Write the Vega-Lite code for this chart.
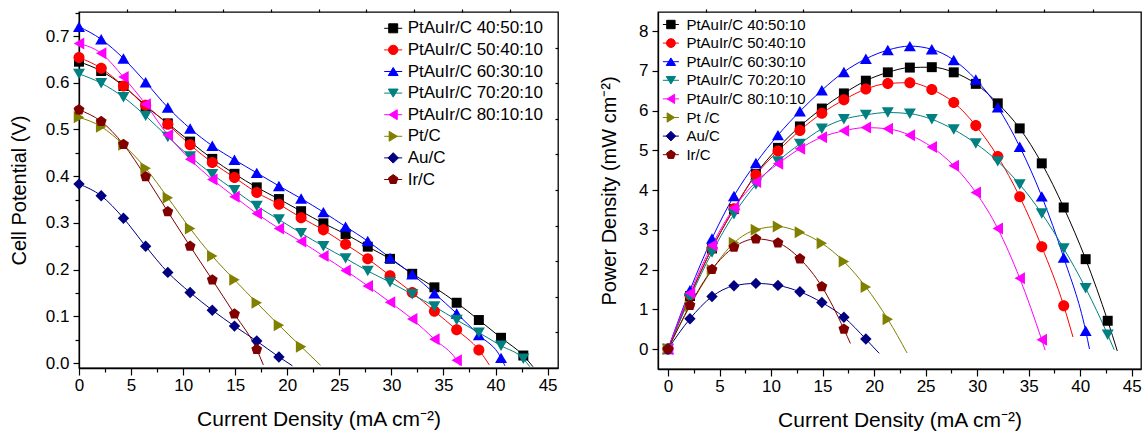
{
"$schema": "https://vega.github.io/schema/vega-lite/v6.json",
"padding": {"left": 8, "top": 3, "right": 0, "bottom": 0},
"autosize": {"type": "pad"},
"bounds": "flush",
"spacing": 100,
"config": {
  "font": "Liberation Sans",
  "view": {"stroke": "#000000", "strokeWidth": 1.3},
  "axis": {"grid": false, "domainColor": "#000000", "domainWidth": 1.3, "tickColor": "#000000", "tickWidth": 1.2, "labelColor": "#000000", "titleColor": "#000000", "labelFontSize": 17, "titleFontSize": 20, "titleFontWeight": "normal", "labelFont": "Liberation Sans", "titleFont": "Liberation Sans", "labelFlush": false, "labelOverlap": false}
},
"resolve": {"scale": {"color": "independent", "shape": "independent"}},
"datasets": {
"cp": [
{"s":"PtAuIr/C 40:50:10","i":0,"v":0.645,"m":1},{"s":"PtAuIr/C 40:50:10","i":2.13,"v":0.625,"m":1},{"s":"PtAuIr/C 40:50:10","i":4.27,"v":0.593,"m":1},{"s":"PtAuIr/C 40:50:10","i":6.4,"v":0.55,"m":1},{"s":"PtAuIr/C 40:50:10","i":8.53,"v":0.513,"m":1},{"s":"PtAuIr/C 40:50:10","i":10.67,"v":0.474,"m":1},{"s":"PtAuIr/C 40:50:10","i":12.8,"v":0.437,"m":1},{"s":"PtAuIr/C 40:50:10","i":14.93,"v":0.405,"m":1},{"s":"PtAuIr/C 40:50:10","i":17.07,"v":0.376,"m":1},{"s":"PtAuIr/C 40:50:10","i":19.2,"v":0.351,"m":1},{"s":"PtAuIr/C 40:50:10","i":21.33,"v":0.325,"m":1},{"s":"PtAuIr/C 40:50:10","i":23.47,"v":0.299,"m":1},{"s":"PtAuIr/C 40:50:10","i":25.6,"v":0.276,"m":1},{"s":"PtAuIr/C 40:50:10","i":27.73,"v":0.249,"m":1},{"s":"PtAuIr/C 40:50:10","i":29.87,"v":0.223,"m":1},{"s":"PtAuIr/C 40:50:10","i":32,"v":0.191,"m":1},{"s":"PtAuIr/C 40:50:10","i":34.13,"v":0.162,"m":1},{"s":"PtAuIr/C 40:50:10","i":36.27,"v":0.129,"m":1},{"s":"PtAuIr/C 40:50:10","i":38.4,"v":0.092,"m":1},{"s":"PtAuIr/C 40:50:10","i":40.53,"v":0.054,"m":1},{"s":"PtAuIr/C 40:50:10","i":42.67,"v":0.016,"m":1},{"s":"PtAuIr/C 40:50:10","i":43.6,"v":-0.008,"m":0},
{"s":"PtAuIr/C 50:40:10","i":0,"v":0.654,"m":1},{"s":"PtAuIr/C 50:40:10","i":2.13,"v":0.631,"m":1},{"s":"PtAuIr/C 50:40:10","i":4.27,"v":0.593,"m":1},{"s":"PtAuIr/C 50:40:10","i":6.4,"v":0.552,"m":1},{"s":"PtAuIr/C 50:40:10","i":8.53,"v":0.511,"m":1},{"s":"PtAuIr/C 50:40:10","i":10.67,"v":0.467,"m":1},{"s":"PtAuIr/C 50:40:10","i":12.8,"v":0.429,"m":1},{"s":"PtAuIr/C 50:40:10","i":14.93,"v":0.397,"m":1},{"s":"PtAuIr/C 50:40:10","i":17.07,"v":0.365,"m":1},{"s":"PtAuIr/C 50:40:10","i":19.2,"v":0.34,"m":1},{"s":"PtAuIr/C 50:40:10","i":21.33,"v":0.311,"m":1},{"s":"PtAuIr/C 50:40:10","i":23.47,"v":0.285,"m":1},{"s":"PtAuIr/C 50:40:10","i":25.6,"v":0.254,"m":1},{"s":"PtAuIr/C 50:40:10","i":27.73,"v":0.223,"m":1},{"s":"PtAuIr/C 50:40:10","i":29.87,"v":0.187,"m":1},{"s":"PtAuIr/C 50:40:10","i":32,"v":0.151,"m":1},{"s":"PtAuIr/C 50:40:10","i":34.13,"v":0.111,"m":1},{"s":"PtAuIr/C 50:40:10","i":36.27,"v":0.071,"m":1},{"s":"PtAuIr/C 50:40:10","i":38.4,"v":0.028,"m":1},{"s":"PtAuIr/C 50:40:10","i":39.4,"v":-0.004,"m":0},
{"s":"PtAuIr/C 60:30:10","i":0,"v":0.72,"m":1},{"s":"PtAuIr/C 60:30:10","i":2.13,"v":0.693,"m":1},{"s":"PtAuIr/C 60:30:10","i":4.27,"v":0.652,"m":1},{"s":"PtAuIr/C 60:30:10","i":6.4,"v":0.601,"m":1},{"s":"PtAuIr/C 60:30:10","i":8.53,"v":0.547,"m":1},{"s":"PtAuIr/C 60:30:10","i":10.67,"v":0.502,"m":1},{"s":"PtAuIr/C 60:30:10","i":12.8,"v":0.465,"m":1},{"s":"PtAuIr/C 60:30:10","i":14.93,"v":0.435,"m":1},{"s":"PtAuIr/C 60:30:10","i":17.07,"v":0.407,"m":1},{"s":"PtAuIr/C 60:30:10","i":19.2,"v":0.379,"m":1},{"s":"PtAuIr/C 60:30:10","i":21.33,"v":0.352,"m":1},{"s":"PtAuIr/C 60:30:10","i":23.47,"v":0.323,"m":1},{"s":"PtAuIr/C 60:30:10","i":25.6,"v":0.292,"m":1},{"s":"PtAuIr/C 60:30:10","i":27.73,"v":0.261,"m":1},{"s":"PtAuIr/C 60:30:10","i":29.87,"v":0.225,"m":1},{"s":"PtAuIr/C 60:30:10","i":32,"v":0.19,"m":1},{"s":"PtAuIr/C 60:30:10","i":34.13,"v":0.149,"m":1},{"s":"PtAuIr/C 60:30:10","i":36.27,"v":0.106,"m":1},{"s":"PtAuIr/C 60:30:10","i":38.4,"v":0.06,"m":1},{"s":"PtAuIr/C 60:30:10","i":40.53,"v":0.011,"m":1},{"s":"PtAuIr/C 60:30:10","i":40.9,"v":-0.006,"m":0},
{"s":"PtAuIr/C 70:20:10","i":0,"v":0.619,"m":1},{"s":"PtAuIr/C 70:20:10","i":2.13,"v":0.599,"m":1},{"s":"PtAuIr/C 70:20:10","i":4.27,"v":0.569,"m":1},{"s":"PtAuIr/C 70:20:10","i":6.4,"v":0.529,"m":1},{"s":"PtAuIr/C 70:20:10","i":8.53,"v":0.484,"m":1},{"s":"PtAuIr/C 70:20:10","i":10.67,"v":0.442,"m":1},{"s":"PtAuIr/C 70:20:10","i":12.8,"v":0.404,"m":1},{"s":"PtAuIr/C 70:20:10","i":14.93,"v":0.37,"m":1},{"s":"PtAuIr/C 70:20:10","i":17.07,"v":0.336,"m":1},{"s":"PtAuIr/C 70:20:10","i":19.2,"v":0.307,"m":1},{"s":"PtAuIr/C 70:20:10","i":21.33,"v":0.278,"m":1},{"s":"PtAuIr/C 70:20:10","i":23.47,"v":0.25,"m":1},{"s":"PtAuIr/C 70:20:10","i":25.6,"v":0.224,"m":1},{"s":"PtAuIr/C 70:20:10","i":27.73,"v":0.197,"m":1},{"s":"PtAuIr/C 70:20:10","i":29.87,"v":0.173,"m":1},{"s":"PtAuIr/C 70:20:10","i":32,"v":0.147,"m":1},{"s":"PtAuIr/C 70:20:10","i":34.13,"v":0.121,"m":1},{"s":"PtAuIr/C 70:20:10","i":36.27,"v":0.092,"m":1},{"s":"PtAuIr/C 70:20:10","i":38.4,"v":0.065,"m":1},{"s":"PtAuIr/C 70:20:10","i":40.53,"v":0.037,"m":1},{"s":"PtAuIr/C 70:20:10","i":42.67,"v":0.009,"m":1},{"s":"PtAuIr/C 70:20:10","i":43.3,"v":-0.008,"m":0},
{"s":"PtAuIr/C 80:10:10","i":0,"v":0.684,"m":1},{"s":"PtAuIr/C 80:10:10","i":2.13,"v":0.663,"m":1},{"s":"PtAuIr/C 80:10:10","i":4.27,"v":0.612,"m":1},{"s":"PtAuIr/C 80:10:10","i":6.4,"v":0.554,"m":1},{"s":"PtAuIr/C 80:10:10","i":8.53,"v":0.488,"m":1},{"s":"PtAuIr/C 80:10:10","i":10.67,"v":0.436,"m":1},{"s":"PtAuIr/C 80:10:10","i":12.8,"v":0.393,"m":1},{"s":"PtAuIr/C 80:10:10","i":14.93,"v":0.356,"m":1},{"s":"PtAuIr/C 80:10:10","i":17.07,"v":0.32,"m":1},{"s":"PtAuIr/C 80:10:10","i":19.2,"v":0.288,"m":1},{"s":"PtAuIr/C 80:10:10","i":21.33,"v":0.26,"m":1},{"s":"PtAuIr/C 80:10:10","i":23.47,"v":0.229,"m":1},{"s":"PtAuIr/C 80:10:10","i":25.6,"v":0.198,"m":1},{"s":"PtAuIr/C 80:10:10","i":27.73,"v":0.165,"m":1},{"s":"PtAuIr/C 80:10:10","i":29.87,"v":0.13,"m":1},{"s":"PtAuIr/C 80:10:10","i":32,"v":0.094,"m":1},{"s":"PtAuIr/C 80:10:10","i":34.13,"v":0.051,"m":1},{"s":"PtAuIr/C 80:10:10","i":36.27,"v":0.006,"m":1},{"s":"PtAuIr/C 80:10:10","i":36.6,"v":-0.006,"m":0},
{"s":"Pt/C","i":0,"v":0.526,"m":1},{"s":"Pt/C","i":2.13,"v":0.506,"m":1},{"s":"Pt/C","i":4.27,"v":0.467,"m":1},{"s":"Pt/C","i":6.4,"v":0.417,"m":1},{"s":"Pt/C","i":8.53,"v":0.354,"m":1},{"s":"Pt/C","i":10.67,"v":0.288,"m":1},{"s":"Pt/C","i":12.8,"v":0.229,"m":1},{"s":"Pt/C","i":14.93,"v":0.178,"m":1},{"s":"Pt/C","i":17.07,"v":0.129,"m":1},{"s":"Pt/C","i":19.2,"v":0.081,"m":1},{"s":"Pt/C","i":21.33,"v":0.035,"m":1},{"s":"Pt/C","i":23.2,"v":-0.005,"m":0},
{"s":"Au/C","i":0,"v":0.383,"m":1},{"s":"Au/C","i":2.13,"v":0.358,"m":1},{"s":"Au/C","i":4.27,"v":0.31,"m":1},{"s":"Au/C","i":6.4,"v":0.25,"m":1},{"s":"Au/C","i":8.53,"v":0.194,"m":1},{"s":"Au/C","i":10.67,"v":0.151,"m":1},{"s":"Au/C","i":12.8,"v":0.113,"m":1},{"s":"Au/C","i":14.93,"v":0.079,"m":1},{"s":"Au/C","i":17.07,"v":0.047,"m":1},{"s":"Au/C","i":19.2,"v":0.013,"m":1},{"s":"Au/C","i":20.5,"v":-0.006,"m":0},
{"s":"Ir/C","i":0,"v":0.542,"m":1},{"s":"Ir/C","i":2.13,"v":0.517,"m":1},{"s":"Ir/C","i":4.27,"v":0.468,"m":1},{"s":"Ir/C","i":6.4,"v":0.399,"m":1},{"s":"Ir/C","i":8.53,"v":0.324,"m":1},{"s":"Ir/C","i":10.67,"v":0.25,"m":1},{"s":"Ir/C","i":12.8,"v":0.178,"m":1},{"s":"Ir/C","i":14.93,"v":0.105,"m":1},{"s":"Ir/C","i":17.07,"v":0.029,"m":1},{"s":"Ir/C","i":17.7,"v":-0.004,"m":0}
],
"pd": [
{"s":"PtAuIr/C 40:50:10","i":0,"p":0,"m":1},{"s":"PtAuIr/C 40:50:10","i":2.13,"p":1.33,"m":1},{"s":"PtAuIr/C 40:50:10","i":4.27,"p":2.53,"m":1},{"s":"PtAuIr/C 40:50:10","i":6.4,"p":3.52,"m":1},{"s":"PtAuIr/C 40:50:10","i":8.53,"p":4.4,"m":1},{"s":"PtAuIr/C 40:50:10","i":10.67,"p":5.06,"m":1},{"s":"PtAuIr/C 40:50:10","i":12.8,"p":5.6,"m":1},{"s":"PtAuIr/C 40:50:10","i":14.93,"p":6.05,"m":1},{"s":"PtAuIr/C 40:50:10","i":17.07,"p":6.43,"m":1},{"s":"PtAuIr/C 40:50:10","i":19.2,"p":6.75,"m":1},{"s":"PtAuIr/C 40:50:10","i":21.33,"p":6.96,"m":1},{"s":"PtAuIr/C 40:50:10","i":23.47,"p":7.08,"m":1},{"s":"PtAuIr/C 40:50:10","i":25.6,"p":7.09,"m":1},{"s":"PtAuIr/C 40:50:10","i":27.73,"p":6.96,"m":1},{"s":"PtAuIr/C 40:50:10","i":29.87,"p":6.67,"m":1},{"s":"PtAuIr/C 40:50:10","i":32,"p":6.18,"m":1},{"s":"PtAuIr/C 40:50:10","i":34.13,"p":5.55,"m":1},{"s":"PtAuIr/C 40:50:10","i":36.27,"p":4.67,"m":1},{"s":"PtAuIr/C 40:50:10","i":38.4,"p":3.56,"m":1},{"s":"PtAuIr/C 40:50:10","i":40.53,"p":2.26,"m":1},{"s":"PtAuIr/C 40:50:10","i":42.67,"p":0.71,"m":1},{"s":"PtAuIr/C 40:50:10","i":43.6,"p":-0.05,"m":0},
{"s":"PtAuIr/C 50:40:10","i":0,"p":0,"m":1},{"s":"PtAuIr/C 50:40:10","i":2.13,"p":1.35,"m":1},{"s":"PtAuIr/C 50:40:10","i":4.27,"p":2.53,"m":1},{"s":"PtAuIr/C 50:40:10","i":6.4,"p":3.53,"m":1},{"s":"PtAuIr/C 50:40:10","i":8.53,"p":4.38,"m":1},{"s":"PtAuIr/C 50:40:10","i":10.67,"p":4.98,"m":1},{"s":"PtAuIr/C 50:40:10","i":12.8,"p":5.5,"m":1},{"s":"PtAuIr/C 50:40:10","i":14.93,"p":5.93,"m":1},{"s":"PtAuIr/C 50:40:10","i":17.07,"p":6.27,"m":1},{"s":"PtAuIr/C 50:40:10","i":19.2,"p":6.54,"m":1},{"s":"PtAuIr/C 50:40:10","i":21.33,"p":6.68,"m":1},{"s":"PtAuIr/C 50:40:10","i":23.47,"p":6.7,"m":1},{"s":"PtAuIr/C 50:40:10","i":25.6,"p":6.53,"m":1},{"s":"PtAuIr/C 50:40:10","i":27.73,"p":6.2,"m":1},{"s":"PtAuIr/C 50:40:10","i":29.87,"p":5.62,"m":1},{"s":"PtAuIr/C 50:40:10","i":32,"p":4.84,"m":1},{"s":"PtAuIr/C 50:40:10","i":34.13,"p":3.83,"m":1},{"s":"PtAuIr/C 50:40:10","i":36.27,"p":2.57,"m":1},{"s":"PtAuIr/C 50:40:10","i":38.4,"p":1.09,"m":1},{"s":"PtAuIr/C 50:40:10","i":39.3,"p":0.3,"m":0},
{"s":"PtAuIr/C 60:30:10","i":0,"p":0,"m":1},{"s":"PtAuIr/C 60:30:10","i":2.13,"p":1.48,"m":1},{"s":"PtAuIr/C 60:30:10","i":4.27,"p":2.78,"m":1},{"s":"PtAuIr/C 60:30:10","i":6.4,"p":3.85,"m":1},{"s":"PtAuIr/C 60:30:10","i":8.53,"p":4.68,"m":1},{"s":"PtAuIr/C 60:30:10","i":10.67,"p":5.38,"m":1},{"s":"PtAuIr/C 60:30:10","i":12.8,"p":5.98,"m":1},{"s":"PtAuIr/C 60:30:10","i":14.93,"p":6.51,"m":1},{"s":"PtAuIr/C 60:30:10","i":17.07,"p":6.97,"m":1},{"s":"PtAuIr/C 60:30:10","i":19.2,"p":7.3,"m":1},{"s":"PtAuIr/C 60:30:10","i":21.33,"p":7.52,"m":1},{"s":"PtAuIr/C 60:30:10","i":23.47,"p":7.62,"m":1},{"s":"PtAuIr/C 60:30:10","i":25.6,"p":7.54,"m":1},{"s":"PtAuIr/C 60:30:10","i":27.73,"p":7.27,"m":1},{"s":"PtAuIr/C 60:30:10","i":29.87,"p":6.78,"m":1},{"s":"PtAuIr/C 60:30:10","i":32,"p":6.08,"m":1},{"s":"PtAuIr/C 60:30:10","i":34.13,"p":5.09,"m":1},{"s":"PtAuIr/C 60:30:10","i":36.27,"p":3.84,"m":1},{"s":"PtAuIr/C 60:30:10","i":38.4,"p":2.3,"m":1},{"s":"PtAuIr/C 60:30:10","i":40.53,"p":0.46,"m":1},{"s":"PtAuIr/C 60:30:10","i":40.9,"p":0.0,"m":0},
{"s":"PtAuIr/C 70:20:10","i":0,"p":0,"m":1},{"s":"PtAuIr/C 70:20:10","i":2.13,"p":1.28,"m":1},{"s":"PtAuIr/C 70:20:10","i":4.27,"p":2.43,"m":1},{"s":"PtAuIr/C 70:20:10","i":6.4,"p":3.39,"m":1},{"s":"PtAuIr/C 70:20:10","i":8.53,"p":4.14,"m":1},{"s":"PtAuIr/C 70:20:10","i":10.67,"p":4.72,"m":1},{"s":"PtAuIr/C 70:20:10","i":12.8,"p":5.16,"m":1},{"s":"PtAuIr/C 70:20:10","i":14.93,"p":5.54,"m":1},{"s":"PtAuIr/C 70:20:10","i":17.07,"p":5.78,"m":1},{"s":"PtAuIr/C 70:20:10","i":19.2,"p":5.89,"m":1},{"s":"PtAuIr/C 70:20:10","i":21.33,"p":5.95,"m":1},{"s":"PtAuIr/C 70:20:10","i":23.47,"p":5.92,"m":1},{"s":"PtAuIr/C 70:20:10","i":25.6,"p":5.78,"m":1},{"s":"PtAuIr/C 70:20:10","i":27.73,"p":5.52,"m":1},{"s":"PtAuIr/C 70:20:10","i":29.87,"p":5.17,"m":1},{"s":"PtAuIr/C 70:20:10","i":32,"p":4.72,"m":1},{"s":"PtAuIr/C 70:20:10","i":34.13,"p":4.14,"m":1},{"s":"PtAuIr/C 70:20:10","i":36.27,"p":3.41,"m":1},{"s":"PtAuIr/C 70:20:10","i":38.4,"p":2.53,"m":1},{"s":"PtAuIr/C 70:20:10","i":40.53,"p":1.53,"m":1},{"s":"PtAuIr/C 70:20:10","i":42.67,"p":0.36,"m":1},{"s":"PtAuIr/C 70:20:10","i":43.3,"p":-0.02,"m":0},
{"s":"PtAuIr/C 80:10:10","i":0,"p":0,"m":1},{"s":"PtAuIr/C 80:10:10","i":2.13,"p":1.41,"m":1},{"s":"PtAuIr/C 80:10:10","i":4.27,"p":2.61,"m":1},{"s":"PtAuIr/C 80:10:10","i":6.4,"p":3.55,"m":1},{"s":"PtAuIr/C 80:10:10","i":8.53,"p":4.2,"m":1},{"s":"PtAuIr/C 80:10:10","i":10.67,"p":4.66,"m":1},{"s":"PtAuIr/C 80:10:10","i":12.8,"p":5.04,"m":1},{"s":"PtAuIr/C 80:10:10","i":14.93,"p":5.33,"m":1},{"s":"PtAuIr/C 80:10:10","i":17.07,"p":5.49,"m":1},{"s":"PtAuIr/C 80:10:10","i":19.2,"p":5.57,"m":1},{"s":"PtAuIr/C 80:10:10","i":21.33,"p":5.54,"m":1},{"s":"PtAuIr/C 80:10:10","i":23.47,"p":5.38,"m":1},{"s":"PtAuIr/C 80:10:10","i":25.6,"p":5.08,"m":1},{"s":"PtAuIr/C 80:10:10","i":27.73,"p":4.61,"m":1},{"s":"PtAuIr/C 80:10:10","i":29.87,"p":3.94,"m":1},{"s":"PtAuIr/C 80:10:10","i":32,"p":3.03,"m":1},{"s":"PtAuIr/C 80:10:10","i":34.13,"p":1.78,"m":1},{"s":"PtAuIr/C 80:10:10","i":36.27,"p":0.23,"m":1},{"s":"PtAuIr/C 80:10:10","i":36.6,"p":-0.03,"m":0},
{"s":"Pt /C","i":0,"p":0,"m":1},{"s":"Pt /C","i":2.13,"p":1.08,"m":1},{"s":"Pt /C","i":4.27,"p":1.99,"m":1},{"s":"Pt /C","i":6.4,"p":2.67,"m":1},{"s":"Pt /C","i":8.53,"p":3.0,"m":1},{"s":"Pt /C","i":10.67,"p":3.08,"m":1},{"s":"Pt /C","i":12.8,"p":2.94,"m":1},{"s":"Pt /C","i":14.93,"p":2.66,"m":1},{"s":"Pt /C","i":17.07,"p":2.2,"m":1},{"s":"Pt /C","i":19.2,"p":1.56,"m":1},{"s":"Pt /C","i":21.33,"p":0.75,"m":1},{"s":"Pt /C","i":23.2,"p":-0.1,"m":0},
{"s":"Au/C","i":0,"p":0,"m":1},{"s":"Au/C","i":2.13,"p":0.76,"m":1},{"s":"Au/C","i":4.27,"p":1.32,"m":1},{"s":"Au/C","i":6.4,"p":1.59,"m":1},{"s":"Au/C","i":8.53,"p":1.65,"m":1},{"s":"Au/C","i":10.67,"p":1.6,"m":1},{"s":"Au/C","i":12.8,"p":1.44,"m":1},{"s":"Au/C","i":14.93,"p":1.17,"m":1},{"s":"Au/C","i":17.07,"p":0.8,"m":1},{"s":"Au/C","i":19.2,"p":0.25,"m":1},{"s":"Au/C","i":20.5,"p":-0.11,"m":0},
{"s":"Ir/C","i":0,"p":0,"m":1},{"s":"Ir/C","i":2.13,"p":1.1,"m":1},{"s":"Ir/C","i":4.27,"p":2.0,"m":1},{"s":"Ir/C","i":6.4,"p":2.56,"m":1},{"s":"Ir/C","i":8.53,"p":2.77,"m":1},{"s":"Ir/C","i":10.67,"p":2.67,"m":1},{"s":"Ir/C","i":12.8,"p":2.27,"m":1},{"s":"Ir/C","i":14.93,"p":1.57,"m":1},{"s":"Ir/C","i":17.07,"p":0.5,"m":1},{"s":"Ir/C","i":17.7,"p":0.14,"m":0}
]
},
"hconcat": [
{
  "width": 479, "height": 356,
  "data": {"name": "cp"},
  "resolve": {"axis": {"x": "independent", "y": "independent"}},
  "layer": [
    {
      "mark": {"type": "line", "interpolate": "monotone", "strokeWidth": 1},
      "encoding": {
        "x": {"field": "i", "type": "quantitative", "scale": {"domain": [0, 46], "nice": false, "zero": false},
              "axis": {"orient": "bottom", "values": [0,2.5,5,7.5,10,12.5,15,17.5,20,22.5,25,27.5,30,32.5,35,37.5,40,42.5,45], "format": "d",
                       "labelExpr": "datum.value % 5 === 0 ? datum.label : ''",
                       "tickSize": {"condition": {"test": "datum.value % 5 === 0", "value": 7}, "value": 4},
                       "labelPadding": 2, "title": "Current Density (mA cm⁻²)", "titleFontSize": 21, "titlePadding": 15}},
        "y": {"field": "v", "type": "quantitative", "scale": {"domain": [-0.0107, 0.7514], "nice": false, "zero": false},
              "axis": {"orient": "left", "values": [0,0.05,0.1,0.15,0.2,0.25,0.3,0.35,0.4,0.45,0.5,0.55,0.6,0.65,0.7,0.75], "format": ".1f",
                       "labelExpr": "round(datum.value*100) % 10 === 0 ? datum.label : ''",
                       "tickSize": {"condition": {"test": "round(datum.value*100) % 10 === 0", "value": 6}, "value": 4},
                       "labelPadding": 4, "title": "Cell Potential (V)", "titlePadding": 16}},
        "color": {"field": "s", "type": "nominal",
                  "scale": {"domain": ["PtAuIr/C 40:50:10","PtAuIr/C 50:40:10","PtAuIr/C 60:30:10","PtAuIr/C 70:20:10","PtAuIr/C 80:10:10","Pt/C","Au/C","Ir/C"],
                            "range": ["#000000","#ff0000","#0000ff","#008080","#ff00ff","#808000","#000080","#800000"]},
                  "legend": {"orient": "none", "legendX": 304.7, "legendY": 6.8, "title": null, "padding": 0, "symbolSize": 324, "symbolStrokeWidth": 1,
                             "labelFontSize": 17, "labelFont": "Liberation Sans", "labelColor": "#000000", "labelOffset": 5, "rowPadding": 3.6, "labelLimit": 300,
                             "encoding": {"symbols": {
                               "shape": {"value": {"expr": "['M-1,0H1M-0.5,-0.5H0.5V0.5H-0.5Z','M-1,0H1M0.52,0A0.52,0.52,0,1,1,-0.52,0A0.52,0.52,0,1,1,0.52,0Z','M-1,0H1M0,-0.45L0.55,0.45L-0.55,0.45Z','M-1,0H1M0,0.45L0.55,-0.45L-0.55,-0.45Z','M-1,0H1M-0.45,0L0.45,-0.55L0.45,0.55Z','M-1,0H1M0.45,0L-0.45,-0.55L-0.45,0.55Z','M-1,0H1M0,-0.58L0.58,0L0,0.58L-0.58,0Z','M-1,0H1M0,-0.55L0.523,-0.17L0.324,0.445L-0.324,0.445L-0.523,-0.17Z'][indexof(['PtAuIr/C 40:50:10','PtAuIr/C 50:40:10','PtAuIr/C 60:30:10','PtAuIr/C 70:20:10','PtAuIr/C 80:10:10','Pt/C','Au/C','Ir/C'], datum.value)]"}},
                               "stroke": {"value": {"expr": "['#000000','#ff0000','#0000ff','#008080','#ff00ff','#808000','#000080','#800000'][indexof(['PtAuIr/C 40:50:10','PtAuIr/C 50:40:10','PtAuIr/C 60:30:10','PtAuIr/C 70:20:10','PtAuIr/C 80:10:10','Pt/C','Au/C','Ir/C'], datum.value)]"}},
                               "fill": {"value": {"expr": "['#000000','#ff0000','#0000ff','#008080','#ff00ff','#808000','#000080','#800000'][indexof(['PtAuIr/C 40:50:10','PtAuIr/C 50:40:10','PtAuIr/C 60:30:10','PtAuIr/C 70:20:10','PtAuIr/C 80:10:10','Pt/C','Au/C','Ir/C'], datum.value)]"}},
                               "strokeWidth": {"value": 1}
                             }}}}
      }
    },
    {
      "transform": [{"filter": "datum.m == 1"}],
      "mark": {"type": "point", "filled": true, "size": 144, "opacity": 1, "strokeWidth": 0},
      "encoding": {
        "x": {"field": "i", "type": "quantitative",
              "axis": {"orient": "top", "values": [4.6,9.2,13.8,18.4,23,27.6,32.2,36.8,41.4], "labels": false, "domain": false, "tickSize": 3, "title": null}},
        "y": {"field": "v", "type": "quantitative",
              "axis": {"orient": "right", "values": [0.0655,0.1417,0.2179,0.2941,0.3704,0.4466,0.5228,0.599,0.6752], "labels": false, "domain": false, "tickSize": -3, "title": null}},
        "color": {"field": "s", "type": "nominal",
                  "scale": {"domain": ["PtAuIr/C 40:50:10","PtAuIr/C 50:40:10","PtAuIr/C 60:30:10","PtAuIr/C 70:20:10","PtAuIr/C 80:10:10","Pt/C","Au/C","Ir/C"],
                            "range": ["#000000","#ff0000","#0000ff","#008080","#ff00ff","#808000","#000080","#800000"]},
                  "legend": {"orient": "none", "legendX": 304.7, "legendY": 6.8, "title": null, "padding": 0, "symbolSize": 324, "symbolStrokeWidth": 1,
                             "labelFontSize": 17, "labelFont": "Liberation Sans", "labelColor": "#000000", "labelOffset": 5, "rowPadding": 3.6, "labelLimit": 300,
                             "encoding": {"symbols": {
                               "shape": {"value": {"expr": "['M-1,0H1M-0.5,-0.5H0.5V0.5H-0.5Z','M-1,0H1M0.52,0A0.52,0.52,0,1,1,-0.52,0A0.52,0.52,0,1,1,0.52,0Z','M-1,0H1M0,-0.45L0.55,0.45L-0.55,0.45Z','M-1,0H1M0,0.45L0.55,-0.45L-0.55,-0.45Z','M-1,0H1M-0.45,0L0.45,-0.55L0.45,0.55Z','M-1,0H1M0.45,0L-0.45,-0.55L-0.45,0.55Z','M-1,0H1M0,-0.58L0.58,0L0,0.58L-0.58,0Z','M-1,0H1M0,-0.55L0.523,-0.17L0.324,0.445L-0.324,0.445L-0.523,-0.17Z'][indexof(['PtAuIr/C 40:50:10','PtAuIr/C 50:40:10','PtAuIr/C 60:30:10','PtAuIr/C 70:20:10','PtAuIr/C 80:10:10','Pt/C','Au/C','Ir/C'], datum.value)]"}},
                               "stroke": {"value": {"expr": "['#000000','#ff0000','#0000ff','#008080','#ff00ff','#808000','#000080','#800000'][indexof(['PtAuIr/C 40:50:10','PtAuIr/C 50:40:10','PtAuIr/C 60:30:10','PtAuIr/C 70:20:10','PtAuIr/C 80:10:10','Pt/C','Au/C','Ir/C'], datum.value)]"}},
                               "fill": {"value": {"expr": "['#000000','#ff0000','#0000ff','#008080','#ff00ff','#808000','#000080','#800000'][indexof(['PtAuIr/C 40:50:10','PtAuIr/C 50:40:10','PtAuIr/C 60:30:10','PtAuIr/C 70:20:10','PtAuIr/C 80:10:10','Pt/C','Au/C','Ir/C'], datum.value)]"}},
                               "strokeWidth": {"value": 1}
                             }}}},
        "shape": {"field": "s", "type": "nominal",
                  "scale": {"domain": ["Ir/C","Au/C","Pt/C","PtAuIr/C 80:10:10","PtAuIr/C 70:20:10","PtAuIr/C 60:30:10","PtAuIr/C 50:40:10","PtAuIr/C 40:50:10"],
                            "range": ["M0,-0.95L0.904,-0.294L0.558,0.769L-0.558,0.769L-0.904,-0.294Z","M0,-0.95L0.95,0L0,0.95L-0.95,0Z","M0.87,0L-0.87,-1L-0.87,1Z","M-0.87,0L0.87,-1L0.87,1Z","M0,0.87L1,-0.87L-1,-0.87Z","M0,-0.87L1,0.87L-1,0.87Z","M0.92,0A0.92,0.92,0,1,1,-0.92,0A0.92,0.92,0,1,1,0.92,0Z","M-0.83,-0.83H0.83V0.83H-0.83Z"]},
                  "legend": null}
      }
    }
  ]
},
{
  "width": 483, "height": 357,
  "data": {"name": "pd"},
  "resolve": {"axis": {"x": "independent", "y": "independent"}},
  "layer": [
    {
      "mark": {"type": "line", "interpolate": "monotone", "strokeWidth": 1},
      "encoding": {
        "x": {"field": "i", "type": "quantitative", "scale": {"domain": [-0.97, 45.9], "nice": false, "zero": false},
              "axis": {"orient": "bottom", "values": [0,2.5,5,7.5,10,12.5,15,17.5,20,22.5,25,27.5,30,32.5,35,37.5,40,42.5,45], "format": "d",
                       "labelExpr": "datum.value % 5 === 0 ? datum.label : ''",
                       "tickSize": {"condition": {"test": "datum.value % 5 === 0", "value": 7}, "value": 4},
                       "labelPadding": 2, "title": "Current Density (mA cm⁻²)", "titleFontSize": 21, "titlePadding": 15}},
        "y": {"field": "p", "type": "quantitative", "scale": {"domain": [-0.503, 8.478], "nice": false, "zero": false},
              "axis": {"orient": "left", "values": [0,0.5,1,1.5,2,2.5,3,3.5,4,4.5,5,5.5,6,6.5,7,7.5,8], "format": "d",
                       "labelExpr": "datum.value % 1 === 0 ? datum.label : ''",
                       "tickSize": {"condition": {"test": "datum.value % 1 === 0", "value": 6}, "value": 4},
                       "labelPadding": 4, "title": "Power Density (mW cm⁻²)", "titlePadding": 19}},
        "color": {"field": "s", "type": "nominal",
                  "scale": {"domain": ["PtAuIr/C 40:50:10","PtAuIr/C 50:40:10","PtAuIr/C 60:30:10","PtAuIr/C 70:20:10","PtAuIr/C 80:10:10","Pt /C","Au/C","Ir/C"],
                            "range": ["#000000","#ff0000","#0000ff","#008080","#ff00ff","#808000","#000080","#800000"]},
                  "legend": {"orient": "none", "legendX": 4.9, "legendY": 4.5, "title": null, "padding": 0, "symbolSize": 225, "symbolStrokeWidth": 1,
                             "labelFontSize": 15, "labelFont": "Liberation Sans", "labelColor": "#000000", "labelOffset": 7.5, "rowPadding": 2.6, "labelLimit": 300,
                             "encoding": {"symbols": {
                               "shape": {"value": {"expr": "['M-1.07,0H1.07M-0.56,-0.56H0.56V0.56H-0.56Z','M-1.07,0H1.07M0.59,0A0.59,0.59,0,1,1,-0.59,0A0.59,0.59,0,1,1,0.59,0Z','M-1.07,0H1.07M0,-0.5L0.62,0.5L-0.62,0.5Z','M-1.07,0H1.07M0,0.5L0.62,-0.5L-0.62,-0.5Z','M-1.07,0H1.07M-0.5,0L0.5,-0.62L0.5,0.62Z','M-1.07,0H1.07M0.5,0L-0.5,-0.62L-0.5,0.62Z','M-1.07,0H1.07M0,-0.64L0.64,0L0,0.64L-0.64,0Z','M-1.07,0H1.07M0,-0.62L0.586,-0.19L0.362,0.5L-0.362,0.5L-0.586,-0.19Z'][indexof(['PtAuIr/C 40:50:10','PtAuIr/C 50:40:10','PtAuIr/C 60:30:10','PtAuIr/C 70:20:10','PtAuIr/C 80:10:10','Pt /C','Au/C','Ir/C'], datum.value)]"}},
                               "stroke": {"value": {"expr": "['#000000','#ff0000','#0000ff','#008080','#ff00ff','#808000','#000080','#800000'][indexof(['PtAuIr/C 40:50:10','PtAuIr/C 50:40:10','PtAuIr/C 60:30:10','PtAuIr/C 70:20:10','PtAuIr/C 80:10:10','Pt /C','Au/C','Ir/C'], datum.value)]"}},
                               "fill": {"value": {"expr": "['#000000','#ff0000','#0000ff','#008080','#ff00ff','#808000','#000080','#800000'][indexof(['PtAuIr/C 40:50:10','PtAuIr/C 50:40:10','PtAuIr/C 60:30:10','PtAuIr/C 70:20:10','PtAuIr/C 80:10:10','Pt /C','Au/C','Ir/C'], datum.value)]"}},
                               "strokeWidth": {"value": 1}
                             }}}}
      }
    },
    {
      "transform": [{"filter": "datum.m == 1"}],
      "mark": {"type": "point", "filled": true, "size": 144, "opacity": 1, "strokeWidth": 0},
      "encoding": {
        "x": {"field": "i", "type": "quantitative",
              "axis": {"orient": "top", "values": [3.717,8.404,13.091,17.778,22.465,27.152,31.839,36.526,41.213], "labels": false, "domain": false, "tickSize": 3, "title": null}},
        "y": {"field": "p", "type": "quantitative", "axis": null},
        "color": {"field": "s", "type": "nominal",
                  "scale": {"domain": ["PtAuIr/C 40:50:10","PtAuIr/C 50:40:10","PtAuIr/C 60:30:10","PtAuIr/C 70:20:10","PtAuIr/C 80:10:10","Pt /C","Au/C","Ir/C"],
                            "range": ["#000000","#ff0000","#0000ff","#008080","#ff00ff","#808000","#000080","#800000"]},
                  "legend": {"orient": "none", "legendX": 4.9, "legendY": 4.5, "title": null, "padding": 0, "symbolSize": 225, "symbolStrokeWidth": 1,
                             "labelFontSize": 15, "labelFont": "Liberation Sans", "labelColor": "#000000", "labelOffset": 7.5, "rowPadding": 2.6, "labelLimit": 300,
                             "encoding": {"symbols": {
                               "shape": {"value": {"expr": "['M-1.07,0H1.07M-0.56,-0.56H0.56V0.56H-0.56Z','M-1.07,0H1.07M0.59,0A0.59,0.59,0,1,1,-0.59,0A0.59,0.59,0,1,1,0.59,0Z','M-1.07,0H1.07M0,-0.5L0.62,0.5L-0.62,0.5Z','M-1.07,0H1.07M0,0.5L0.62,-0.5L-0.62,-0.5Z','M-1.07,0H1.07M-0.5,0L0.5,-0.62L0.5,0.62Z','M-1.07,0H1.07M0.5,0L-0.5,-0.62L-0.5,0.62Z','M-1.07,0H1.07M0,-0.64L0.64,0L0,0.64L-0.64,0Z','M-1.07,0H1.07M0,-0.62L0.586,-0.19L0.362,0.5L-0.362,0.5L-0.586,-0.19Z'][indexof(['PtAuIr/C 40:50:10','PtAuIr/C 50:40:10','PtAuIr/C 60:30:10','PtAuIr/C 70:20:10','PtAuIr/C 80:10:10','Pt /C','Au/C','Ir/C'], datum.value)]"}},
                               "stroke": {"value": {"expr": "['#000000','#ff0000','#0000ff','#008080','#ff00ff','#808000','#000080','#800000'][indexof(['PtAuIr/C 40:50:10','PtAuIr/C 50:40:10','PtAuIr/C 60:30:10','PtAuIr/C 70:20:10','PtAuIr/C 80:10:10','Pt /C','Au/C','Ir/C'], datum.value)]"}},
                               "fill": {"value": {"expr": "['#000000','#ff0000','#0000ff','#008080','#ff00ff','#808000','#000080','#800000'][indexof(['PtAuIr/C 40:50:10','PtAuIr/C 50:40:10','PtAuIr/C 60:30:10','PtAuIr/C 70:20:10','PtAuIr/C 80:10:10','Pt /C','Au/C','Ir/C'], datum.value)]"}},
                               "strokeWidth": {"value": 1}
                             }}}},
        "shape": {"field": "s", "type": "nominal",
                  "scale": {"domain": ["Ir/C","Au/C","Pt /C","PtAuIr/C 80:10:10","PtAuIr/C 70:20:10","PtAuIr/C 60:30:10","PtAuIr/C 50:40:10","PtAuIr/C 40:50:10"],
                            "range": ["M0,-0.95L0.904,-0.294L0.558,0.769L-0.558,0.769L-0.904,-0.294Z","M0,-0.95L0.95,0L0,0.95L-0.95,0Z","M0.87,0L-0.87,-1L-0.87,1Z","M-0.87,0L0.87,-1L0.87,1Z","M0,0.87L1,-0.87L-1,-0.87Z","M0,-0.87L1,0.87L-1,0.87Z","M0.92,0A0.92,0.92,0,1,1,-0.92,0A0.92,0.92,0,1,1,0.92,0Z","M-0.83,-0.83H0.83V0.83H-0.83Z"]},
                  "legend": null}
      }
    }
  ]
}
]
}
